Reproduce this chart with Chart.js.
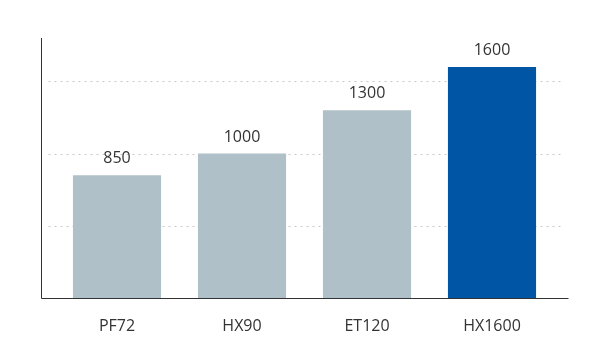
<!DOCTYPE html>
<html>
<head>
<meta charset="utf-8">
<script src="https://cdn.jsdelivr.net/npm/chart.js@4/dist/chart.umd.min.js"></script>
<style>
  html, body { margin: 0; padding: 0; background: #fff; }
  #wrap { width: 600px; height: 360px; }
</style>
</head>
<body>
<div id="wrap"><canvas id="modelChart"></canvas></div>
<script>
// 資料
const models = ['PF72', 'HX90', 'ET120', 'HX1600'];
const values = [850, 1000, 1300, 1600];
const barColors = ['#b0c0c9', '#b0c0c9', '#b0c0c9', '#0055a5'];
const gridValues = [500, 1000, 1500];

const FONT = "'Open Sans', 'DejaVu Sans', sans-serif";

// 軸線 + 虛線格線 (延伸到圖區外)
const axisPlugin = {
    id: 'axisLines',
    beforeDatasetsDraw(chart) {
        const { ctx, chartArea: a, scales: { y } } = chart;
        ctx.save();
        ctx.strokeStyle = '#c8c8c8';
        ctx.lineWidth = 1;
        ctx.setLineDash([2, 4]);
        gridValues.forEach(v => {
            const py = Math.round(y.getPixelForValue(v)) + 0.5;
            ctx.beginPath();
            ctx.moveTo(a.left - 6, py);
            ctx.lineTo(a.right + 10, py);
            ctx.stroke();
        });
        ctx.restore();
    },
    afterDatasetsDraw(chart) {
        const { ctx, chartArea: a } = chart;
        ctx.save();
        ctx.strokeStyle = '#333';
        ctx.lineWidth = 1;
        ctx.beginPath();
        ctx.moveTo(41.5, a.top);
        ctx.lineTo(41.5, a.bottom + 0.5);
        ctx.lineTo(a.right + 14, a.bottom + 0.5);
        ctx.stroke();
        ctx.restore();
    }
};

// 數值標籤
const labelPlugin = {
    id: 'valueLabels',
    afterDatasetsDraw(chart) {
        const { ctx } = chart;
        const meta = chart.getDatasetMeta(0);
        ctx.save();
        ctx.font = '16px ' + FONT;
        ctx.fillStyle = '#333';
        ctx.textAlign = 'center';
        ctx.textBaseline = 'alphabetic';
        meta.data.forEach((bar, i) => {
            ctx.fillText(String(values[i]), bar.x, bar.y - 12);
        });
        ctx.restore();
    }
};

new Chart(document.getElementById('modelChart'), {
    type: 'bar',
    data: {
        labels: models,
        datasets: [{
            data: values,
            backgroundColor: barColors,
            borderWidth: 0,
            categoryPercentage: 1,
            barPercentage: 0.705
        }]
    },
    options: {
        responsive: true,
        maintainAspectRatio: false,
        animation: false,
        layout: { padding: { left: 54.5, right: 45.5, top: 38, bottom: 0 } },
        plugins: { legend: { display: false }, tooltip: { enabled: false } },
        scales: {
            x: {
                grid: { display: false },
                border: { display: false },
                ticks: { color: '#333', font: { size: 16, family: FONT }, padding: 11 },
                afterFit(s) { s.height = 62; }
            },
            y: {
                min: 0,
                max: 1800,
                grid: { display: false },
                border: { display: false },
                ticks: { display: false },
                afterFit(s) { s.width = 0; }
            }
        }
    },
    plugins: [axisPlugin, labelPlugin]
});
</script>
</body>
</html>
